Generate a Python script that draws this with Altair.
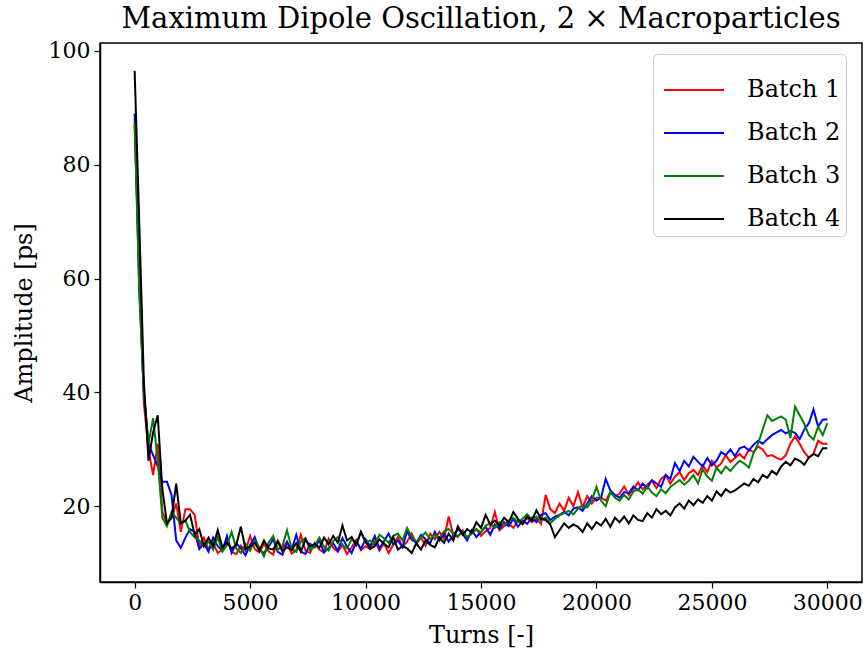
import altair as alt
import pandas as pd

step = 200
turns = [i * step for i in range(151)]

batch1 = [87, 62, 38, 30, 25.5, 31, 19, 17, 18, 20.5, 15.5, 19.5, 19.5, 18.5, 13, 14.5,
          12.5, 13.5, 11.8, 12.4, 14.2, 12.0, 11.6, 13.1, 12.2, 14.8, 12.5, 11.9, 13.4, 12.1, 11.5,
          14.0, 12.6, 13.8, 11.7, 12.3, 15.0, 12.2, 11.8, 13.6, 12.4, 11.9, 14.3, 12.7, 12.0, 13.2,
          11.6, 12.8, 14.1, 12.3, 13.0,
          12.5, 14.0, 12.2, 13.5, 11.8, 13.3, 14.6, 12.9, 13.8, 15.2,
          13.4, 14.5, 13.1, 15.2, 14.2, 15.5, 14.3, 18.2, 15.0, 14.6,
          15.8, 14.4, 15.3, 16.0, 14.8, 15.6, 16.2, 19.0, 15.8, 16.5,
          17.0, 16.2, 17.5, 16.8, 18.0, 17.2, 17.8, 16.9, 22.0, 19.5,
          18.8, 20.5, 19.2, 21.5, 20.0, 22.5, 19.8, 21.8, 20.5, 21.5,
          21.5, 21.0, 22.5, 21.8, 22.2, 23.5, 22.0, 23.0, 24.2, 23.0,
          23.8, 24.5, 23.2, 24.8, 25.5, 24.0, 25.2, 26.0, 24.6, 25.8,
          26.4, 25.5, 27.2, 26.0, 28.0, 26.8, 27.5, 29.0, 27.8, 28.5,
          29.2, 28.4, 30.0, 29.5, 30.5, 30.0, 28.8, 29.0, 28.5, 28.2,
          29.0, 31.0, 32.3, 31.0, 29.5, 28.5, 29.2, 31.5, 31.0, 31.0]

batch2 = [89, 58, 40, 31, 29, 27, 24.3, 24.3, 22, 14, 12.7, 14.5, 16, 15.5, 12.5, 13.5,
          12.0, 14.5, 13.0, 12.2, 14.8, 11.8, 13.5, 12.6, 11.4, 13.2, 14.6, 12.3, 11.8, 12.9, 14.2,
          12.0, 11.5, 13.7, 12.4, 15.0, 12.1, 11.6, 13.4, 12.8, 14.0, 11.9, 12.7, 13.5, 12.2, 14.4,
          12.9, 11.8, 13.8, 12.5, 14.2,
          13.0, 14.8, 12.6, 13.9, 15.2, 13.3, 14.0, 12.8, 15.6, 14.1,
          13.6, 15.0, 14.2, 13.5, 15.5, 14.0, 15.2, 13.8, 14.9, 16.0,
          15.2, 14.0, 15.8, 14.6, 15.5, 16.4, 15.0, 16.8, 16.0, 17.2,
          16.5, 17.8, 16.4, 17.5, 16.9, 18.0, 17.2, 18.5, 18.8, 17.6,
          18.2, 18.5, 19.0, 18.4, 19.6, 19.8, 19.2, 20.5, 21.8, 21.0,
          21.5, 24.8, 22.8, 22.0, 21.5, 22.5, 22.3, 23.5, 22.8, 24.0,
          23.2, 24.6, 24.0, 23.4, 25.5, 24.8, 27.6, 26.2, 28.0, 27.0,
          28.7, 27.8, 27.0, 28.5, 27.2, 28.0, 29.5, 29.0, 30.0, 28.8,
          30.2, 30.5, 29.8, 30.8, 31.5, 31.0, 31.8, 32.5, 33.0, 33.4,
          32.8, 33.2, 32.9, 31.8, 33.5, 34.6, 37.0, 34.0, 35.2, 35.3]

batch3 = [87.5, 58, 40, 31, 35.5, 28, 18, 16.5, 19, 18, 17, 17.5, 15.5, 14.5, 14, 13,
          13.8, 12.4, 14.6, 12.0, 13.2, 15.5, 12.6, 11.8, 13.4, 12.2, 14.0, 12.8, 11.2, 13.6, 14.8,
          12.4, 13.0, 15.8, 12.6, 12.0, 13.8, 14.4, 12.3, 13.1, 14.5, 12.9, 12.2, 13.9, 14.6, 13.2,
          12.6, 14.2, 13.4, 15.5, 13.6,
          14.0, 13.2, 15.0, 14.4, 13.6, 14.8, 15.2, 14.0, 16.2, 14.6,
          13.8, 14.6, 15.4, 14.2, 15.0, 14.4, 15.6, 16.0, 15.2, 14.8,
          15.5, 14.6, 15.2, 16.0, 15.4, 16.6, 17.0, 16.2, 17.2, 16.8,
          17.5, 18.0, 17.2, 17.8, 18.6, 17.6, 18.2, 17.5, 18.0, 17.0,
          17.8, 18.4, 18.8, 19.2, 18.6, 19.6, 20.2, 19.8, 21.0, 23.4,
          21.0, 20.0, 22.5, 21.5, 21.0, 22.0, 21.2, 22.6, 23.0, 22.2,
          23.5, 22.4, 21.8, 23.0, 22.3, 23.4, 24.0, 24.6, 23.8, 24.5,
          25.5, 24.0, 26.5, 25.2, 24.5, 26.8, 25.8, 27.0, 26.2, 27.2,
          28.0, 27.5, 26.8, 29.3, 31.0, 33.5, 36.0, 35.0, 35.4, 35.8,
          35.2, 32.0, 37.5, 36.0, 34.5, 32.5, 31.7, 34.0, 32.5, 34.6]

batch4 = [96.5, 70, 42, 28, 33, 36, 23, 17, 18, 24, 17, 17.5, 18.5, 15, 16, 13,
          14.5, 13.0, 15.8, 12.8, 13.6, 12.6, 13.2, 16.4, 12.5, 12.9, 13.6, 12.2, 14.0, 12.6, 12.4,
          13.8, 12.1, 12.8, 12.3, 13.5, 12.0, 14.2, 12.9, 13.4, 12.7, 14.5, 13.3, 14.8, 13.6, 16.6,
          14.0, 14.6, 13.2, 15.5, 13.8,
          12.5, 13.0, 14.2, 13.4, 12.8, 14.6, 12.4, 13.0, 12.6, 11.8,
          13.5, 12.4, 14.0, 13.2, 12.8, 14.5, 13.6, 15.2, 14.0, 16.5,
          15.0, 16.0, 15.4, 17.2, 16.2, 18.5, 16.8, 17.5, 16.6, 18.0,
          17.2, 19.0, 17.8, 16.9, 18.2, 17.5, 19.3, 17.8, 17.6, 16.8,
          14.6, 15.8, 17.0, 16.2, 16.8, 16.4, 15.5, 17.0, 16.0, 17.2,
          16.6, 17.8, 16.4, 18.0, 17.2, 18.2, 17.0, 18.4, 17.6, 17.4,
          18.8, 18.0, 19.5, 18.6, 19.2, 18.4, 19.8, 20.5, 19.6, 21.0,
          20.2, 21.2, 20.6, 21.8, 21.0, 22.6, 21.8, 23.0, 22.4, 22.8,
          23.4, 24.0, 23.6, 24.8, 24.2, 25.5, 25.0, 26.2, 25.6, 27.0,
          27.8, 27.2, 28.4, 28.0, 27.3, 28.6, 29.2, 28.8, 30.2, 30.2]

names = ["Batch 1", "Batch 2", "Batch 3", "Batch 4"]
colors = ["#ff0000", "#0000ff", "#008000", "#000000"]
series = [batch1, batch2, batch3, batch4]

rows = []
for name, vals in zip(names, series):
    for t, v in zip(turns, vals):
        rows.append({"Turns": t, "Amplitude": v, "Batch": name})
df = pd.DataFrame(rows)

FONT = "DejaVu Serif"

chart = alt.Chart(df).mark_line(strokeWidth=2, clip=True).encode(
    x=alt.X("Turns:Q",
            scale=alt.Scale(domain=[-1500, 31500], nice=False, zero=False),
            axis=alt.Axis(title="Turns [-]", values=[0, 5000, 10000, 15000, 20000, 25000, 30000],
                          format="d")),
    y=alt.Y("Amplitude:Q",
            scale=alt.Scale(domain=[6.7, 101.4], nice=False, zero=False),
            axis=alt.Axis(title="Amplitude [ps]", values=[20, 40, 60, 80, 100])),
    color=alt.Color("Batch:N",
                    scale=alt.Scale(domain=names, range=colors),
                    legend=alt.Legend(title=None, orient="none", legendX=553, legendY=11,
                                      symbolType="stroke", symbolSize=3600, symbolStrokeWidth=2,
                                      symbolOffset=5,
                                      labelFontSize=24, labelFont=FONT, labelOffset=22,
                                      rowPadding=0, padding=5, strokeColor="#cccccc",
                                      fillColor="rgba(255,255,255,0.8)", cornerRadius=5)),
    detail="Batch:N",
).properties(
    width=762, height=539,
    title=alt.TitleParams("Maximum Dipole Oscillation, 2 × Macroparticles",
                          font=FONT, fontSize=29, fontWeight="normal", color="black", offset=6),
    autosize=alt.AutoSizeParams(type="none"),
    padding={"left": 100, "top": 43, "right": 4, "bottom": 75},
).configure_view(
    stroke="black", strokeWidth=1.5,
).configure_axis(
    labelFont=FONT, titleFont=FONT, labelFontSize=22, titleFontSize=24,
    titleFontWeight="normal", labelColor="black", titleColor="black",
    domainColor="black", tickColor="black", tickSize=6, tickWidth=1.2, domainWidth=1.5,
    grid=False, labelPadding=4,
).configure_axisX(titlePadding=10).configure_axisY(titlePadding=12)

chart.save("out.html", embed_options={"renderer": "svg", "actions": False})
